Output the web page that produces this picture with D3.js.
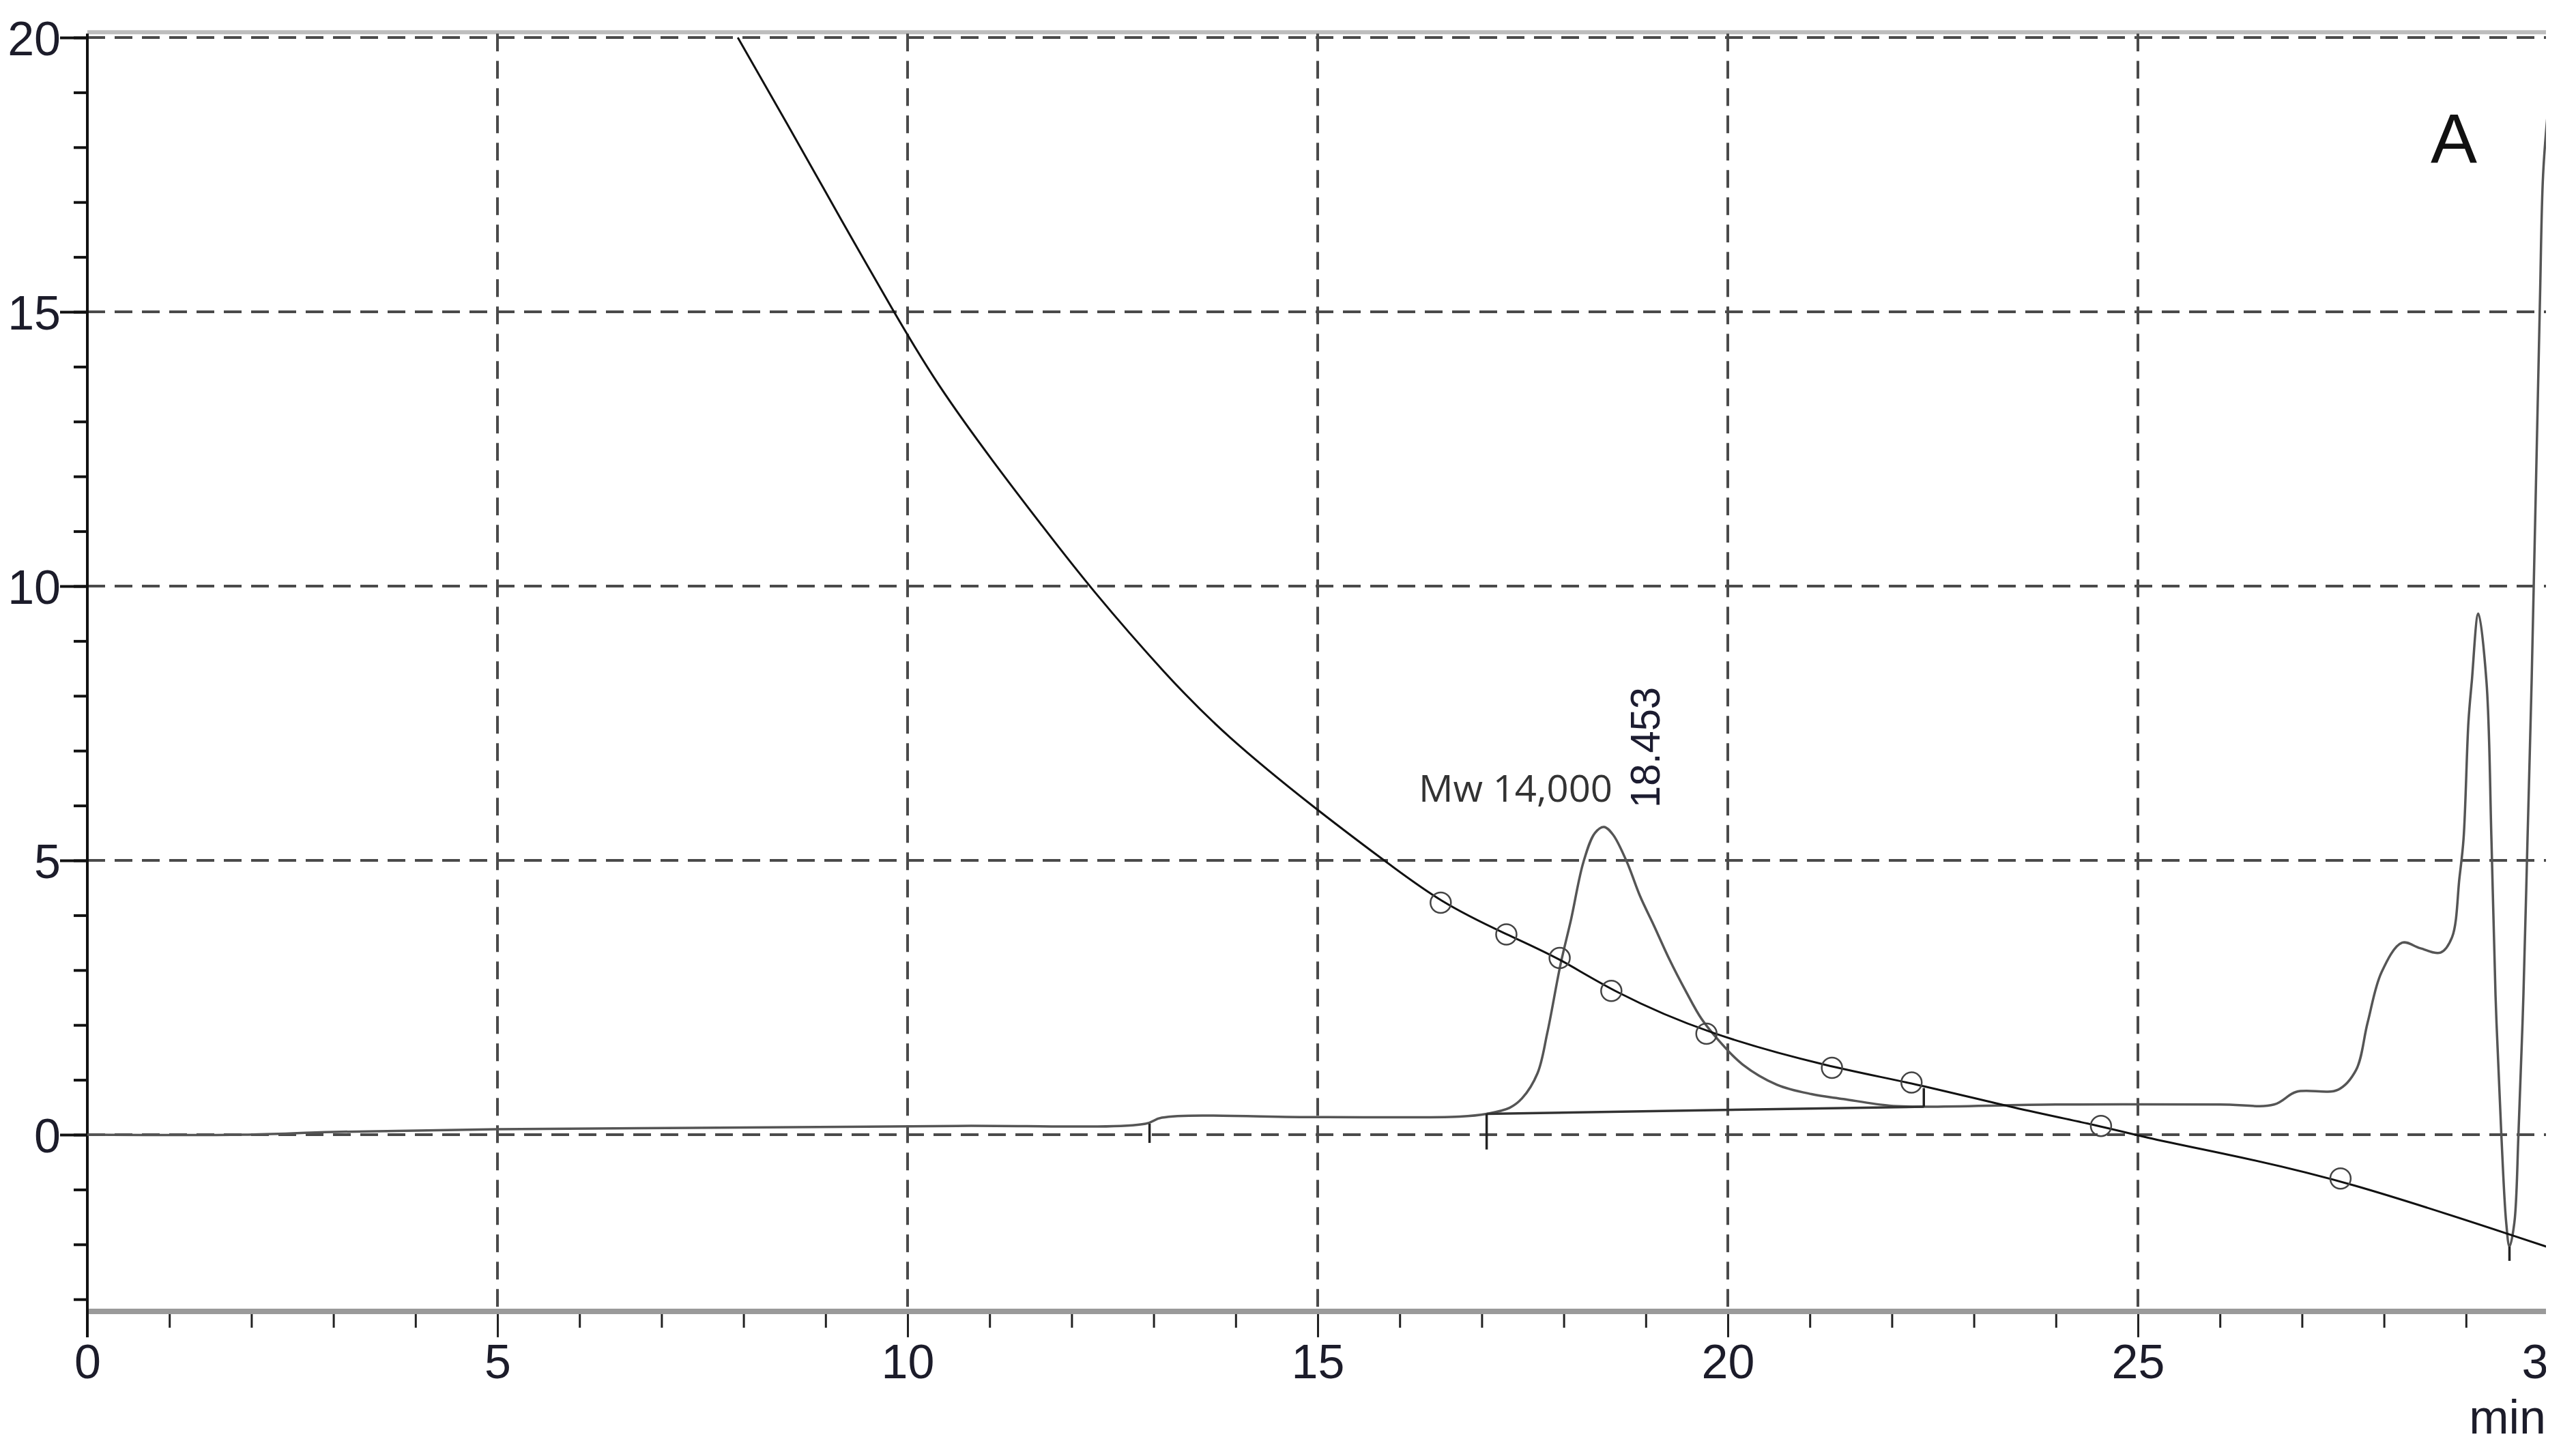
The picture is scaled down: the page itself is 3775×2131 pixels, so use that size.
<!DOCTYPE html>
<html>
<head>
<meta charset="utf-8">
<script src="https://cdn.jsdelivr.net/npm/d3@7"></script>
<style>
  html, body { margin: 0; padding: 0; background: #fff; }
  svg { display: block; }
</style>
</head>
<body>
<svg id="chart" width="3731" height="2131"></svg>
<script>
// axis ticks
var xTicks = [0, 5, 10, 15, 20, 25, 30];
var yTicks = [0, 5, 10, 15, 20];

// calibration curve (solid black line)
var calTime  = [7.93, 8.6, 9.19, 9.83, 10.36, 11.06, 11.64, 12.23, 13.16, 13.87, 14.98, 15.8, 16.5, 17.3, 17.95, 18.58, 19.74, 21.27, 22.24, 23.53, 24.55, 25.05, 26.0, 27.47, 30.0];
var calValue = [20.0, 18.25, 16.68, 15.0, 13.67, 12.23, 11.1, 9.96, 8.36, 7.28, 5.93, 5.01, 4.23, 3.65, 3.22, 2.62, 1.84, 1.22, 0.95, 0.47, 0.16, -0.04, -0.33, -0.8, -2.05];

// calibration standards (open circles)
var stdTime  = [16.5, 17.3, 17.95, 18.58, 19.74, 21.27, 22.24, 24.55, 27.47];
var stdValue = [4.23, 3.65, 3.22, 2.62, 1.84, 1.22, 0.95, 0.16, -0.8];

// chromatogram signal
var sigTime  = [0, 1.9, 3, 5, 8, 10.6, 12.9, 13.1, 15, 16.73, 17.06, 17.34, 17.49, 17.68, 17.8, 17.96, 18.09, 18.24, 18.38, 18.49, 18.6, 18.77, 18.93, 19.1, 19.29, 19.49, 19.68, 19.9, 20.18, 20.6, 21.02, 21.41, 21.97, 22.39, 24, 26.0, 26.66, 26.93, 27.44, 27.66, 27.8, 27.97, 28.22, 28.44, 28.69, 28.83, 28.92, 28.97, 29.03, 29.07, 29.15, 29.25, 29.31, 29.36, 29.43, 29.49, 29.53, 29.59, 29.64, 29.7, 29.75, 29.8, 29.9, 29.94, 30.0];
var sigValue = [0, 0, 0.05, 0.1, 0.13, 0.16, 0.2, 0.31, 0.32, 0.33, 0.38, 0.49, 0.66, 1.12, 1.86, 3.1, 3.93, 4.97, 5.5, 5.61, 5.47, 4.97, 4.35, 3.81, 3.19, 2.61, 2.11, 1.7, 1.28, 0.91, 0.74, 0.65, 0.53, 0.51, 0.55, 0.55, 0.55, 0.78, 0.82, 1.18, 2.04, 2.96, 3.5, 3.4, 3.32, 3.6, 4.68, 5.39, 7.53, 8.25, 9.5, 8.25, 5.39, 2.54, 0.03, -1.6, -2.04, -1.6, 0.03, 2.54, 5.39, 8.25, 15.1, 17.5, 18.7];

// integration baseline under the main peak
var baseTime  = [17.06, 22.39];
var baseValue = [0.38, 0.51];

// integration event marks
var markTime = [12.95, 17.06, 22.39, 29.53];
var markFrom = [0.2, 0.38, 0.51, -2.04];
var markTo   = [-0.15, -0.27, 0.85, -2.3];

var peakTime = 18.453;
var peakLabel = "18.453";
var mwLabel = "Mw 14,000";
var panelLabel = "A";
var unitLabel = "min";

var svg = d3.select("#chart");
var fontAxis = "'Liberation Sans', Arial, sans-serif";

var x = d3.scaleLinear().domain([0, 30]).range([128, 3734]);
var y = d3.scaleLinear().domain([0, 20]).range([1663, 55]);

var plotTop = y(20.07), plotBottom = y(-3.22), plotLeft = x(0), plotRight = 3731;

svg.append("clipPath").attr("id", "plot")
    .append("rect")
    .attr("x", plotLeft).attr("y", plotTop)
    .attr("width", plotRight - plotLeft).attr("height", plotBottom - plotTop);

// top frame
svg.append("line")
    .attr("x1", plotLeft).attr("x2", plotRight)
    .attr("y1", plotTop - 2).attr("y2", plotTop - 2)
    .attr("stroke", "#bdbdbd").attr("stroke-width", 6);

// grid
var grid = svg.append("g").attr("stroke", "#4a4a4a").attr("stroke-width", 4)
    .attr("stroke-dasharray", "26,14").attr("fill", "none");

grid.selectAll("line.v").data(xTicks.filter(function (d) { return d > 0; })).enter()
    .append("line").attr("class", "v")
    .attr("x1", function (d) { return x(d); }).attr("x2", function (d) { return x(d); })
    .attr("y1", plotTop).attr("y2", plotBottom);

grid.selectAll("line.h").data(yTicks).enter()
    .append("line").attr("class", "h")
    .attr("x1", plotLeft).attr("x2", plotRight)
    .attr("y1", function (d) { return y(d); }).attr("y2", function (d) { return y(d); });

// bottom axis
var xMinor = d3.axisBottom(x).ticks(30).tickSize(24).tickFormat("");
var gxm = svg.append("g").attr("transform", "translate(0," + plotBottom + ")").call(xMinor);

var xMajor = d3.axisBottom(x).tickValues(xTicks).tickSize(38).tickPadding(10).tickFormat(d3.format("d"));
var gx = svg.append("g").attr("transform", "translate(0," + plotBottom + ")").call(xMajor);

[gxm, gx].forEach(function (g) {
    g.select(".domain").remove();
    g.selectAll(".tick line").attr("stroke", "#222").attr("stroke-width", 3);
});
gx.selectAll(".tick text")
    .attr("font-family", fontAxis).attr("font-size", 70).attr("fill", "#1c1c2a");

svg.append("line")
    .attr("x1", plotLeft).attr("x2", plotRight)
    .attr("y1", plotBottom).attr("y2", plotBottom)
    .attr("stroke", "#9a9a9a").attr("stroke-width", 8);

// left axis
var yMinor = d3.axisLeft(y).tickValues(d3.range(-3, 21)).tickSize(20).tickFormat("");
var gym = svg.append("g").attr("transform", "translate(" + plotLeft + ",0)").call(yMinor);

var yMajor = d3.axisLeft(y).tickValues(yTicks).tickSize(40).tickPadding(-1).tickFormat(d3.format("d"));
var gy = svg.append("g").attr("transform", "translate(" + plotLeft + ",0)").call(yMajor);

[gym, gy].forEach(function (g) {
    g.select(".domain").remove();
    g.selectAll(".tick line").attr("stroke", "#111").attr("stroke-width", 4);
});
gy.selectAll(".tick text")
    .attr("font-family", fontAxis).attr("font-size", 70).attr("fill", "#1c1c2a")
    .attr("dy", "0.36em");

svg.append("line")
    .attr("x1", plotLeft).attr("x2", plotLeft)
    .attr("y1", plotTop).attr("y2", plotBottom + 38)
    .attr("stroke", "#111").attr("stroke-width", 4);

svg.append("text")
    .attr("x", plotRight).attr("y", 2101)
    .attr("text-anchor", "end")
    .attr("font-family", fontAxis).attr("font-size", 70).attr("fill", "#1c1c2a")
    .text(unitLabel);

// data layer
var layer = svg.append("g").attr("clip-path", "url(#plot)");

function xy(curve) {
    return d3.line()
        .x(function (d) { return x(d[0]); })
        .y(function (d) { return y(d[1]); })
        .curve(curve);
}

layer.append("path")
    .datum(d3.zip(sigTime, sigValue))
    .attr("d", xy(d3.curveCatmullRom.alpha(0.5)))
    .attr("fill", "none").attr("stroke", "#555").attr("stroke-width", 3.5);

layer.append("path")
    .datum(d3.zip(baseTime, baseValue))
    .attr("d", xy(d3.curveLinear))
    .attr("fill", "none").attr("stroke", "#333").attr("stroke-width", 3.5);

layer.selectAll("line.mark").data(d3.range(markTime.length)).enter()
    .append("line").attr("class", "mark")
    .attr("x1", function (i) { return x(markTime[i]); })
    .attr("x2", function (i) { return x(markTime[i]); })
    .attr("y1", function (i) { return y(markFrom[i]); })
    .attr("y2", function (i) { return y(markTo[i]); })
    .attr("stroke", "#222").attr("stroke-width", 3.5);

layer.append("path")
    .datum(d3.zip(calTime, calValue))
    .attr("d", xy(d3.curveBasis))
    .attr("fill", "none").attr("stroke", "#111").attr("stroke-width", 3);

layer.selectAll("circle.std").data(d3.zip(stdTime, stdValue)).enter()
    .append("circle").attr("class", "std")
    .attr("cx", function (d) { return x(d[0]); })
    .attr("cy", function (d) { return y(d[1]); })
    .attr("r", 15)
    .attr("fill", "none").attr("stroke", "#444").attr("stroke-width", 2.5);

// labels
svg.append("text")
    .attr("transform", "translate(" + (x(peakTime) + 86) + "," + 1184 + ") rotate(-90)")
    .attr("font-family", fontAxis).attr("font-size", 62).attr("fill", "#1c1c30")
    .attr("textLength", 177).attr("lengthAdjust", "spacingAndGlyphs")
    .text(peakLabel);

svg.append("text")
    .attr("x", 2079).attr("y", 1175)
    .attr("font-family", "'Open Sans', 'Noto Sans', sans-serif").attr("font-size", 54).attr("fill", "#333")
    .attr("textLength", 284).attr("lengthAdjust", "spacingAndGlyphs")
    .text(mwLabel);

svg.append("text")
    .attr("x", 3596).attr("y", 239)
    .attr("text-anchor", "middle")
    .attr("font-family", fontAxis).attr("font-size", 102).attr("fill", "#111")
    .text(panelLabel);
</script>
</body>
</html>
